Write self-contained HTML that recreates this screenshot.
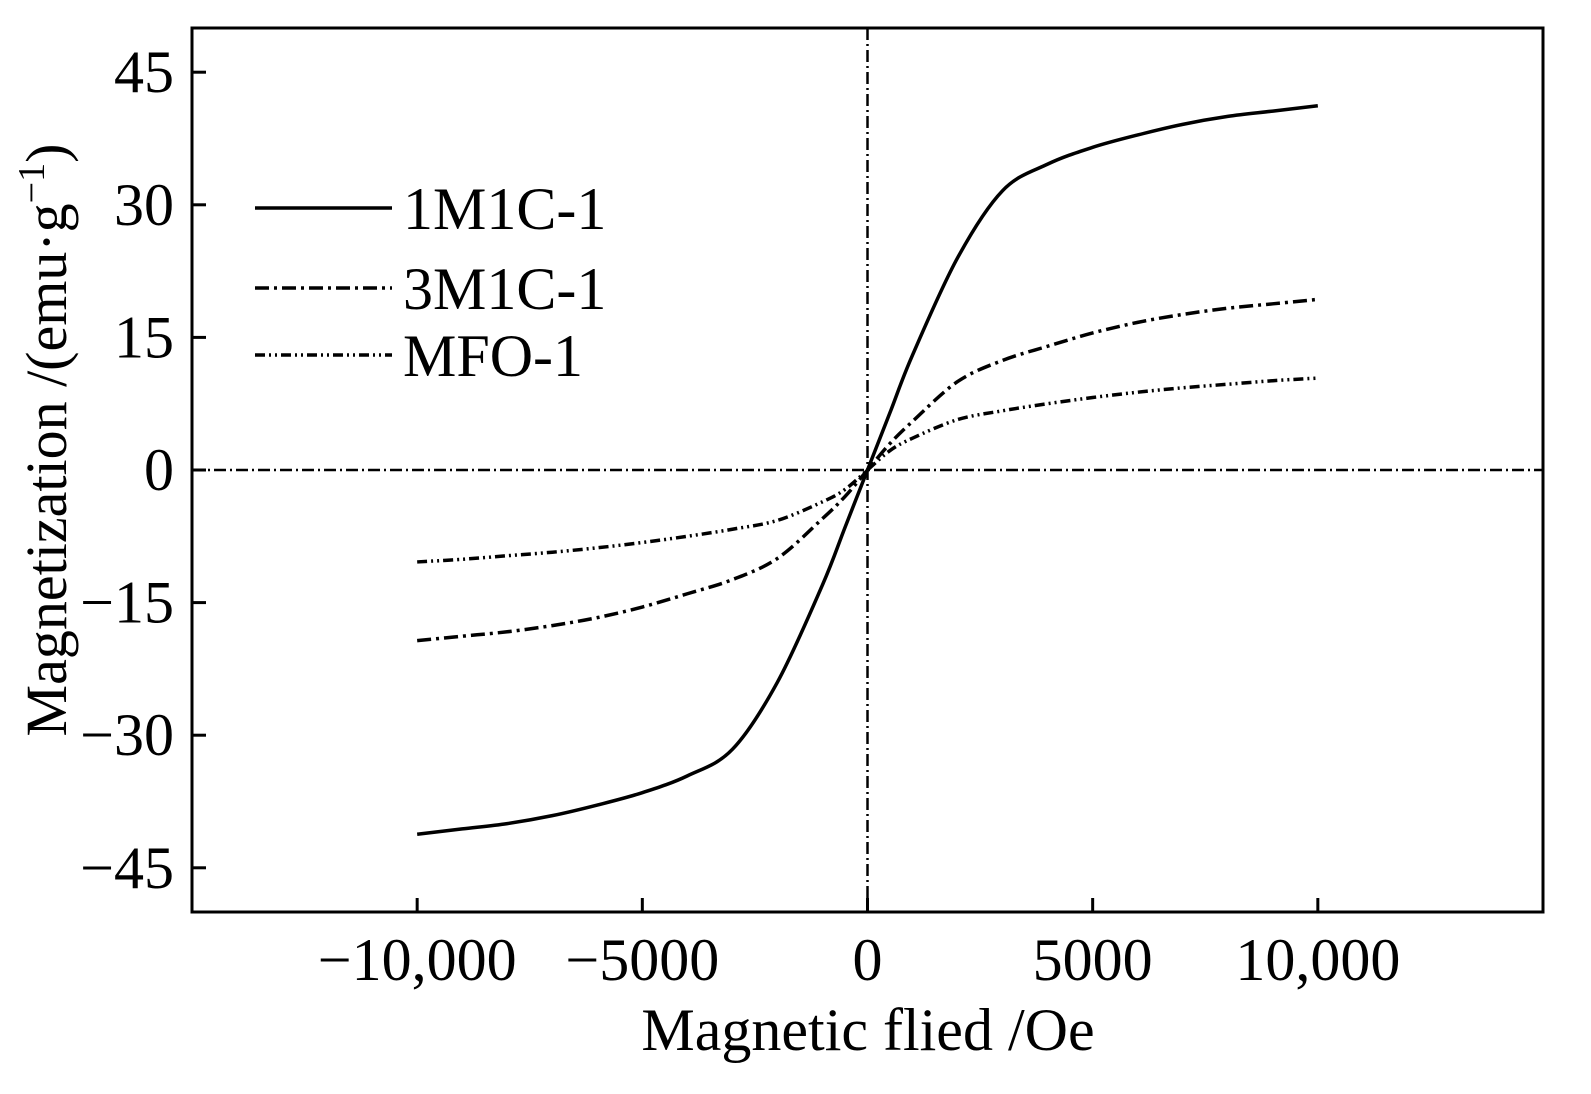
<!DOCTYPE html>
<html><head><meta charset="utf-8"><style>
body{margin:0;background:#fff}
svg text{font-family:"Liberation Serif",serif;fill:#000}
</style></head><body>
<svg id="chart" width="1591" height="1089" xmlns="http://www.w3.org/2000/svg"></svg>
<script>
const fieldValues=[0,500,1000,2000,3000,4000,5000,6000,7000,8000,9000,10000];
const series1M1C=[0,6.5,13,24,31.6,34.6,36.5,37.9,39.1,40,40.6,41.2];
const series3M1C=[0,3,5.5,10,12.4,14,15.5,16.7,17.6,18.3,18.8,19.3];
const seriesMFO=[0,2.2,3.6,5.7,6.7,7.5,8.2,8.8,9.3,9.7,10.1,10.4];
const xTicks=[-10000,-5000,0,5000,10000];
const xTickLabels=["\u221210,000","\u22125000","0","5000","10,000"];
const yTicks=[-45,-30,-15,0,15,30,45];
const yTickLabels=["\u221245","\u221230","\u221215","0","15","30","45"];
const seriesNames=["1M1C-1","3M1C-1","MFO-1"];

const L=192,R=1543,T=28,B=912;
const X=v=>L+(v+15000)/30000*(R-L);
const Y=v=>T+(50-v)/100*(B-T);
const svg=document.getElementById('chart');
const NS="http://www.w3.org/2000/svg";
function mk(tag,attrs,parent){const e=document.createElementNS(NS,tag);for(const k in attrs)e.setAttribute(k,attrs[k]);(parent||svg).appendChild(e);return e;}
function smooth(p){let d='M'+p[0][0]+','+p[0][1];for(let i=0;i<p.length-1;i++){const a=p[Math.max(0,i-1)],b=p[i],c=p[i+1],e=p[Math.min(p.length-1,i+2)];d+=' C'+(b[0]+(c[0]-a[0])/6)+','+(b[1]+(c[1]-a[1])/6)+' '+(c[0]-(e[0]-b[0])/6)+','+(c[1]-(e[1]-b[1])/6)+' '+c[0]+','+c[1];}return d;}

let e;
e=mk('line',{x1:X(0),x2:X(0),y1:T,y2:B,stroke:'#000','stroke-width':2.5,'stroke-dasharray':'12,4,2,4'});


e=mk('line',{x1:L,x2:R,y1:Y(0),y2:Y(0),stroke:'#000','stroke-width':2.5,'stroke-dasharray':'12,4,2,4'});



const dashes=['none','14,5,3,5','10,4,2,4,2,4'];
const all=[series1M1C,series3M1C,seriesMFO];
all.forEach((s,i)=>{
  const pts=[];
  for(let j=fieldValues.length-1;j>0;j--)pts.push([X(-fieldValues[j]),Y(-s[j])]);
  for(let j=0;j<fieldValues.length;j++)pts.push([X(fieldValues[j]),Y(s[j])]);
  const p=mk('path',{d:smooth(pts),fill:'none',stroke:'#000','stroke-width':3.5,'stroke-dasharray':dashes[i],'stroke-linejoin':'round'});
  
  
  const ly=[208,288,355][i];
  const ll=mk('line',{x1:255,x2:392,y1:ly,y2:ly,stroke:'#000','stroke-width':3.5,'stroke-dasharray':dashes[i]});
  
  
  const lt=mk('text',{x:403,y:ly+21,'font-size':60});
  lt.textContent=seriesNames[i];
  
  
});

e=mk('rect',{x:L,y:T,width:R-L,height:B-T,fill:'none',stroke:'#000','stroke-width':3});



xTicks.forEach((v,i)=>{
  const t=mk('line',{x1:X(v),x2:X(v),y1:B,y2:B-14,stroke:'#000','stroke-width':3});
  
  
  const l=mk('text',{x:X(v),y:980,'font-size':60,'text-anchor':'middle'});
  l.textContent=xTickLabels[i];
  
  
});
yTicks.forEach((v,i)=>{
  const t=mk('line',{x1:L,x2:L+14,y1:Y(v),y2:Y(v),stroke:'#000','stroke-width':3});
  
  
  const l=mk('text',{x:174,y:Y(v)+20,'font-size':60,'text-anchor':'end'});
  l.textContent=yTickLabels[i];
  
  
});
e=mk('text',{x:868,y:1050,'font-size':60,'text-anchor':'middle'});
e.textContent='Magnetic flied /Oe';


e=mk('text',{x:0,y:0,'font-size':58,'text-anchor':'middle',transform:'translate(66,440) rotate(-90)'});
e.innerHTML='Magnetization /(emu\u00b7g<tspan dy="-22" font-size="38">\u22121</tspan><tspan dy="22">)</tspan>';


</script>
</body></html>
